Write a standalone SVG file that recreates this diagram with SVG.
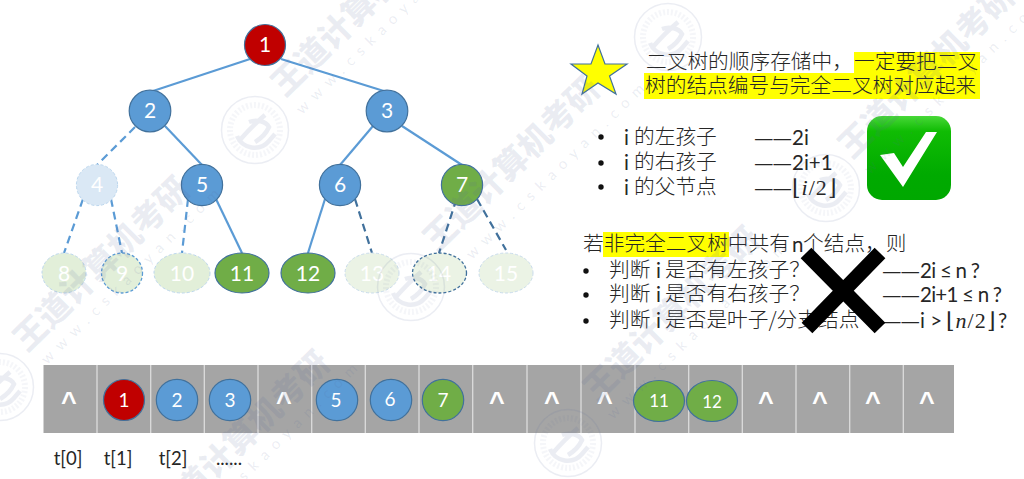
<svg xmlns="http://www.w3.org/2000/svg" width="1024" height="479" viewBox="0 0 1024 479">
<style>
.e{stroke:#5b9bd5;stroke-width:2.200;fill:none}
.d{stroke-dasharray:8 5}
.k{stroke:#41719c}
.n{stroke:#41719c;stroke-width:1.200}
.b{fill:#5b9bd5}.g{fill:#70ad47}.r{fill:#c00000}
.fb{fill:#dae8f5;stroke:#bdd7ee;stroke-width:1;stroke-dasharray:3 2}
.fg{fill:#e2efd9;stroke:#bdd7ee;stroke-width:1;stroke-dasharray:3 2}
.fh{fill:#ebf3e5;stroke:#c9dcec;stroke-width:1;stroke-dasharray:3 2}
.l{font-family:Lato,"Liberation Sans",sans-serif;font-size:21px;fill:#fff;text-anchor:middle}
.s{font-size:19px}
.t{font-family:"Noto Sans CJK SC",Lato,sans-serif;font-weight:300;font-size:20.700px;fill:#262626}
.u{font-family:Lato,"Noto Sans CJK SC",sans-serif;font-size:20.500px;fill:#262626}
.m{font-family:"Liberation Serif","DejaVu Serif",serif;font-size:22px;fill:#262626;letter-spacing:1px}
.dd{font-family:"Liberation Sans",sans-serif;font-size:17.500px;letter-spacing:1px;fill:#262626}
.h{fill:#ffff00}
.bu{fill:#111}
.c{font-family:"Liberation Sans",sans-serif;font-weight:bold;font-size:27px;fill:#fff;text-anchor:middle}
.a{font-family:Lato,sans-serif;font-size:18.500px;fill:#262626;text-anchor:middle}
.w{font-family:"Noto Sans CJK SC",sans-serif;font-weight:900;font-size:33px;fill:#5a6a9c;fill-opacity:.12}
.x{font-family:Lato,sans-serif;font-size:15px;letter-spacing:7.500px;fill:#5a6a9c;fill-opacity:.12}
.q{fill:none;stroke:#5a6a9c;stroke-opacity:.12}
</style>
<defs>
<linearGradient id="gr" x1="0" y1="0" x2="0" y2="1"><stop offset="0" stop-color="#48d838"/><stop offset=".18" stop-color="#10bc04"/><stop offset=".7" stop-color="#00aa00"/><stop offset="1" stop-color="#00a800"/></linearGradient>
<g id="seal"><circle class="q" r="33.500" stroke-width="1.500"/><circle class="q" r="25" stroke-width="6" stroke-dasharray="2 2" style="stroke-opacity:.06"/><path class="q" stroke-width="4.500" d="M-16 11Q-3 -4 10 -15M-18 6A19 19 0 0 0 14 11L20 4M-6 -8A14 10 0 0 1 14 -3Q10 6 0 12"/></g>
</defs>
<g id="connectors">
<line class="e" x1="250" y1="59" x2="150" y2="92"/>
<line class="e" x1="281" y1="59" x2="387" y2="92"/>
<line class="e d" x1="135" y1="127" x2="97" y2="165"/>
<line class="e" x1="165" y1="126" x2="202" y2="165"/>
<line class="e" x1="373" y1="126" x2="340" y2="165"/>
<line class="e" x1="402" y1="126" x2="462" y2="165"/>
<line class="e d" x1="83" y1="199" x2="64" y2="253"/>
<line class="e d" x1="111" y1="199" x2="122" y2="253"/>
<line class="e d" x1="188" y1="199" x2="182" y2="253"/>
<line class="e" x1="216" y1="199" x2="242" y2="253"/>
<line class="e" x1="325" y1="199" x2="308" y2="253"/>
<line class="e d k" x1="355" y1="199" x2="372" y2="253"/>
<line class="e d k" x1="456.500" y1="199" x2="439" y2="253"/>
<line class="e d k" x1="477" y1="199" x2="506" y2="250"/>
</g>
<g id="n1"><circle class="n r" cx="265" cy="45" r="20.500"/><text class="l" x="265" y="52">1</text></g>
<g id="n2"><circle class="n b" cx="150" cy="111" r="20.800"/><text class="l" x="150" y="118">2</text></g>
<g id="n3"><circle class="n b" cx="387" cy="111" r="20.800"/><text class="l" x="387" y="118">3</text></g>
<g id="n4"><circle class="fb" cx="97" cy="185" r="20.600"/><text class="l" x="97" y="192">4</text></g>
<g id="n5"><circle class="n b" cx="202" cy="185" r="20.600"/><text class="l" x="202" y="192">5</text></g>
<g id="n6"><circle class="n b" cx="340" cy="185" r="20.600"/><text class="l" x="340" y="192">6</text></g>
<g id="n7"><circle class="n g" cx="462" cy="185" r="20.600"/><text class="l" x="462" y="192">7</text></g>
<g id="n8"><ellipse class="fg" cx="64" cy="273" rx="22" ry="20"/><text class="l" x="64" y="281">8</text></g>
<g id="n9"><ellipse class="fg" style="stroke:#5b9bd5;stroke-width:1.300" cx="122" cy="273" rx="20.500" ry="20"/><text class="l" x="122" y="281">9</text></g>
<g id="n10"><ellipse class="fg" cx="182" cy="273" rx="28" ry="20"/><text class="l" x="182" y="281">10</text></g>
<g id="n11"><ellipse class="n g" cx="242" cy="273" rx="27" ry="20"/><text class="l" x="242" y="281">11</text></g>
<g id="n12"><ellipse class="n g" cx="308" cy="273" rx="27" ry="20"/><text class="l" x="308" y="281">12</text></g>
<g id="n13"><ellipse class="fh" cx="372" cy="273" rx="27" ry="20"/><text class="l" x="372" y="281">13</text></g>
<g id="n14"><ellipse class="fh" style="stroke:#41719c;stroke-width:1.300" cx="439.500" cy="273" rx="27" ry="20"/><text class="l" x="439" y="281">14</text></g>
<g id="n15"><ellipse class="fh" cx="506" cy="273" rx="27" ry="20"/><text class="l" x="506" y="281">15</text></g>

<g id="star"><polygon points="598,45 605,64 627,64 609.500,76 616,94 598,83 582,94 587,76 571,64 591,64" fill="#ffff00" stroke="#41719c" stroke-width="1.200"/></g>
<g id="note1">
<rect class="h" x="854" y="52" width="126" height="21"/>
<rect class="h" x="644" y="73" width="336" height="26"/>
<text class="t" x="646" y="69">二叉树的顺序存储中，</text>
<text class="t" x="854" y="69">一定要把二叉</text>
<text class="t" x="645" y="92.500">树的结点编号与完全二叉树对应起来</text>
</g>
<g id="rules">
<circle class="bu" cx="601" cy="137" r="2.700"/><circle class="bu" cx="601" cy="163" r="2.700"/><circle class="bu" cx="601" cy="187" r="2.700"/>
<text class="u" x="624" y="145">i</text><text class="t" x="634" y="144">的左孩子</text>
<text class="u" x="624" y="170">i</text><text class="t" x="634" y="169">的右孩子</text>
<text class="u" x="624" y="195">i</text><text class="t" x="634" y="193.500">的父节点</text>
<text class="dd" x="755" y="144">——</text><text class="u" x="792" y="145">2i</text>
<text class="dd" x="755" y="169">——</text><text class="u" x="792" y="170">2i+1</text>
<text class="dd" x="755" y="194">——</text><text class="m" x="792" y="195">⌊<tspan font-style="italic">i</tspan>/2⌋</text>
</g>
<g id="check"><rect x="867" y="116" width="84" height="84" rx="15" fill="url(#gr)"/><polygon points="880,155 894,153 903,167 926,132 937,132 903,187" fill="#fff"/></g>
<g id="note2">
<rect class="h" x="603" y="232" width="126" height="25"/>
<text class="t" x="583" y="251">若非完全二叉树中共有</text>
<text class="u" x="792" y="252">n</text>
<text class="t" x="803" y="251">个结点，则</text>
<circle class="bu" cx="586" cy="271" r="2.700"/><circle class="bu" cx="586" cy="295" r="2.700"/><circle class="bu" cx="586" cy="321" r="2.700"/>
<text class="t" x="609" y="277">判断</text><text class="u" x="656" y="278">i</text><text class="t" x="665" y="277">是否有左孩子？</text>
<text class="t" x="609" y="301">判断</text><text class="u" x="656" y="302">i</text><text class="t" x="665" y="301">是否有右孩子？</text>
<text class="t" x="609" y="327">判断</text><text class="u" x="656" y="328">i</text><text class="t" x="665" y="327">是否是叶子/分支结点</text>
<text class="dd" x="883" y="277">——</text><text class="u" x="920" y="278" textLength="60" lengthAdjust="spacing">2i ≤ n ?</text>
<text class="dd" x="883" y="301">——</text><text class="u" x="920" y="302" textLength="82" lengthAdjust="spacing">2i+1 ≤ n ?</text>
<text class="dd" x="883" y="327">——</text><text class="u" x="920" y="328">i &gt;</text><text class="m" x="946" y="328">⌊<tspan font-style="italic">n</tspan>/2⌋</text><text class="u" x="998" y="328">?</text>
</g>
<g id="cross"><path d="M806 253L880 328M880 253L807 328" stroke="#000" stroke-width="15" fill="none"/></g>

<g id="array">
<rect x="43.500" y="365" width="910.500" height="68" fill="#a5a5a5"/>
<path d="M97 365V433M150.700 365V433M204.300 365V433M258 365V433M311.700 365V433M365.300 365V433M419 365V433M472.700 365V433M527 365V433M581 365V433M635 365V433M688.700 365V433M742.300 365V433M796 365V433M849.700 365V433M903.300 365V433" stroke="#dcdcdc" stroke-width="1.300" fill="none"/>
<text class="c" x="69" y="411">^</text><text class="c" x="284" y="411">^</text><text class="c" x="497" y="411">^</text><text class="c" x="552" y="411">^</text><text class="c" x="605" y="411">^</text><text class="c" x="766" y="411">^</text><text class="c" x="820" y="411">^</text><text class="c" x="873" y="411">^</text><text class="c" x="927" y="411">^</text>
</g>
<g id="a1"><circle class="n r" cx="124" cy="400" r="20.500"/><text class="l s" x="124" y="407">1</text></g>
<g id="a2"><circle class="n b" cx="177" cy="400" r="20.700"/><text class="l s" x="177" y="407">2</text></g>
<g id="a3"><circle class="n b" cx="230" cy="400" r="20.700"/><text class="l s" x="230" y="407">3</text></g>
<g id="a5"><circle class="n b" cx="337" cy="400" r="20.700"/><text class="l s" x="336" y="407">5</text></g>
<g id="a6"><circle class="n b" cx="391" cy="400" r="20.700"/><text class="l s" x="390" y="406">6</text></g>
<g id="a7"><circle class="n g" cx="443" cy="400" r="20.700"/><text class="l s" x="443" y="407">7</text></g>
<g id="a11"><ellipse class="n g" cx="659" cy="401" rx="25.500" ry="20.500"/><text class="l s" style="font-size:17px" x="659" y="407">11</text></g>
<g id="a12"><ellipse class="n g" cx="712" cy="401" rx="25.500" ry="20.500"/><text class="l s" style="font-size:17px" x="712" y="408">12</text></g>
<g id="labels">
<text class="a" x="68" y="465">t[0]</text><text class="a" x="118" y="465">t[1]</text><text class="a" x="173" y="465">t[2]</text><text class="a" x="229" y="465">......</text>
</g>
<g id="watermark">
<text class="w" transform="translate(27 353) rotate(-44.500)">王道计算机考研</text>
<text class="w" transform="translate(285 98) rotate(-44.500)">王道计算机考研</text>
<text class="w" transform="translate(437 253) rotate(-44.500)">王道计算机考研</text>
<text class="w" transform="translate(852 160) rotate(-44.500)">王道计算机考研</text>
<text class="w" transform="translate(167 527) rotate(-44.500)">王道计算机考研</text>
<text class="w" transform="translate(597 403) rotate(-44.500)">王道计算机考研</text>
<text class="x" transform="translate(47 365) rotate(-44.500)">www.cskaoyan.com</text>
<text class="x" transform="translate(302 115) rotate(-44.500)">www.cskaoyan.com</text>
<text class="x" transform="translate(472 260) rotate(-44.500)">www.cskaoyan.com</text>
<text class="x" transform="translate(870 175) rotate(-44.500)">www.cskaoyan.com</text>
<text class="x" transform="translate(185 540) rotate(-44.500)">www.cskaoyan.com</text>
<text class="x" transform="translate(613 420) rotate(-44.500)">www.cskaoyan.com</text>
<use href="#seal" x="255" y="130"/><use href="#seal" x="411" y="287"/><use href="#seal" x="0" y="387"/><use href="#seal" x="568" y="443"/><use href="#seal" x="668" y="37"/><use href="#seal" x="826" y="188"/>
</g>
</svg>
